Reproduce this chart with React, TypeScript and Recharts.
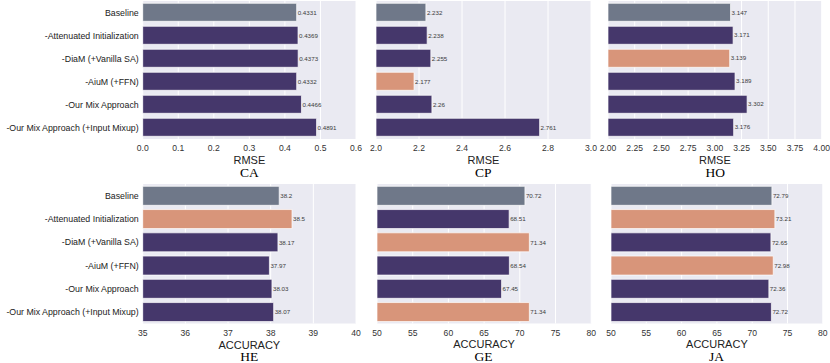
import React from 'react';
import { BarChart, Bar, XAxis, YAxis, CartesianGrid, Cell, LabelList } from 'recharts';

const categories = [
  'Baseline',
  '-Attenuated Initialization',
  '-DiaM (+Vanilla SA)',
  '-AiuM (+FFN)',
  '-Our Mix Approach',
  '-Our Mix Approach (+Input Mixup)',
];

const caValues = [0.4331, 0.4369, 0.4373, 0.4332, 0.4466, 0.4891];
const cpValues = [2.232, 2.238, 2.255, 2.177, 2.26, 2.761];
const hoValues = [3.147, 3.171, 3.139, 3.189, 3.302, 3.176];
const heValues = [38.2, 38.5, 38.17, 37.97, 38.03, 38.07];
const geValues = [70.72, 68.51, 71.34, 68.54, 67.45, 71.34];
const jaValues = [72.79, 73.21, 72.65, 72.98, 72.36, 72.72];

const caTicks = [0, 0.1, 0.2, 0.3, 0.4, 0.5, 0.6];
const cpTicks = [2.0, 2.2, 2.4, 2.6, 2.8, 3.0];
const hoTicks = [2.0, 2.25, 2.5, 2.75, 3.0, 3.25, 3.5, 3.75, 4.0];
const heTicks = [35, 36, 37, 38, 39, 40];
const geTicks = [50, 55, 60, 65, 70, 75, 80];
const jaTicks = [50, 55, 60, 65, 70, 75, 80];

const COLORS = { base: '#6f7889', worse: '#45376b', better: '#d8957a' };
const BG = '#eaeaf2';
const SANS = '"Liberation Sans", Arial, sans-serif';
const SERIF = '"Liberation Serif", "Times New Roman", serif';

const CategoryTick = (props: any) => {
  const { x, y, payload } = props;
  return (
    <text x={x} y={y} dy="0.36em" textAnchor="end" fontSize={8.8} fill="#222222" fontFamily={SANS}>
      {payload.value}
    </text>
  );
};

type PanelProps = {
  title: string;
  metric: string;
  values: number[];
  lowerIsBetter: boolean;
  ticks: number[];
  decimals: number;
  x0: number;
  x1: number;
  y0: number;
  y1: number;
  showY: boolean;
};

function Panel(p: PanelProps) {
  const data = categories.map((c, i) => ({ name: c, value: p.values[i] }));
  const base = p.values[0];
  const colorFor = (v: number, i: number) => {
    if (i === 0) return COLORS.base;
    const better = p.lowerIsBetter ? v < base : v > base;
    return better ? COLORS.better : COLORS.worse;
  };
  const pad = 14;
  const axisH = 25;
  const yW = p.showY ? p.x0 : 0;
  const leftPad = p.showY ? 0 : pad;
  const chartLeft = p.x0 - yW - leftPad;
  const plotW = p.x1 - p.x0;
  const width = leftPad + yW + plotW + pad;
  const height = p.y1 - p.y0 + axisH + 2;
  const cx = (p.x0 + p.x1) / 2;
  return (
    <>
      <div style={{ position: 'absolute', left: chartLeft, top: p.y0, width, height }}>
        <BarChart
          width={width}
          height={height}
          data={data}
          layout="vertical"
          margin={{ top: 0, right: pad, left: leftPad, bottom: 2 }}
          barCategoryGap="10%"
        >
          <CartesianGrid horizontal={false} stroke="#ffffff" strokeWidth={1} fill={BG} fillOpacity={1} />
          <XAxis
            type="number"
            domain={[p.ticks[0], p.ticks[p.ticks.length - 1]]}
            ticks={p.ticks}
            interval={0}
            allowDataOverflow
            tickFormatter={(v: number) => v.toFixed(p.decimals)}
            axisLine={false}
            tickLine={false}
            tickSize={0}
            tickMargin={6}
            height={axisH}
            tick={{ fontSize: 8.6, fill: '#333333', fontFamily: SANS }}
            label={{ value: p.metric, position: 'insideBottom', offset: 0, fontSize: 11, fill: '#222222', fontFamily: SANS }}
          />
          <YAxis
            type="category"
            dataKey="name"
            width={yW}
            hide={!p.showY}
            axisLine={false}
            tickLine={false}
            tickSize={0}
            tickMargin={4}
            interval={0}
            tick={<CategoryTick />}
          />
          <Bar dataKey="value" isAnimationActive={false} stroke="#ffffff" strokeWidth={0.7}>
            {data.map((d, i) => (
              <Cell key={i} fill={colorFor(d.value, i)} />
            ))}
            <LabelList dataKey="value" position="right" offset={1} fontSize={6.2} fill="#3a3a3a" fontFamily={SANS} />
          </Bar>
        </BarChart>
      </div>
      <div
        style={{
          position: 'absolute',
          left: cx - 40,
          width: 80,
          top: p.y1 + 38 - 11,
          textAlign: 'center',
          fontFamily: SERIF,
          fontSize: 13.5,
          lineHeight: '13.5px',
          color: '#000',
        }}
      >
        {p.title}
      </div>
    </>
  );
}

export default function App() {
  return (
    <div style={{ position: 'absolute', left: 0, top: 0, width: 830, height: 363, background: '#ffffff', overflow: 'hidden' }}>
      <Panel title="CA" metric="RMSE" values={caValues} lowerIsBetter ticks={caTicks} decimals={1} x0={142.7} x1={356} y0={1} y1={139} showY />
      <Panel title="CP" metric="RMSE" values={cpValues} lowerIsBetter ticks={cpTicks} decimals={1} x0={375.7} x1={590.7} y0={1} y1={139} showY={false} />
      <Panel title="HO" metric="RMSE" values={hoValues} lowerIsBetter ticks={hoTicks} decimals={2} x0={608.3} x1={822} y0={1} y1={139} showY={false} />
      <Panel title="HE" metric="ACCURACY" values={heValues} lowerIsBetter={false} ticks={heTicks} decimals={0} x0={142.7} x1={356} y0={183.5} y1={323} showY />
      <Panel title="GE" metric="ACCURACY" values={geValues} lowerIsBetter={false} ticks={geTicks} decimals={0} x0={376.5} x1={590.7} y0={183.5} y1={323} showY={false} />
      <Panel title="JA" metric="ACCURACY" values={jaValues} lowerIsBetter={false} ticks={jaTicks} decimals={0} x0={610.7} x1={822.5} y0={183.5} y1={323} showY={false} />
    </div>
  );
}
